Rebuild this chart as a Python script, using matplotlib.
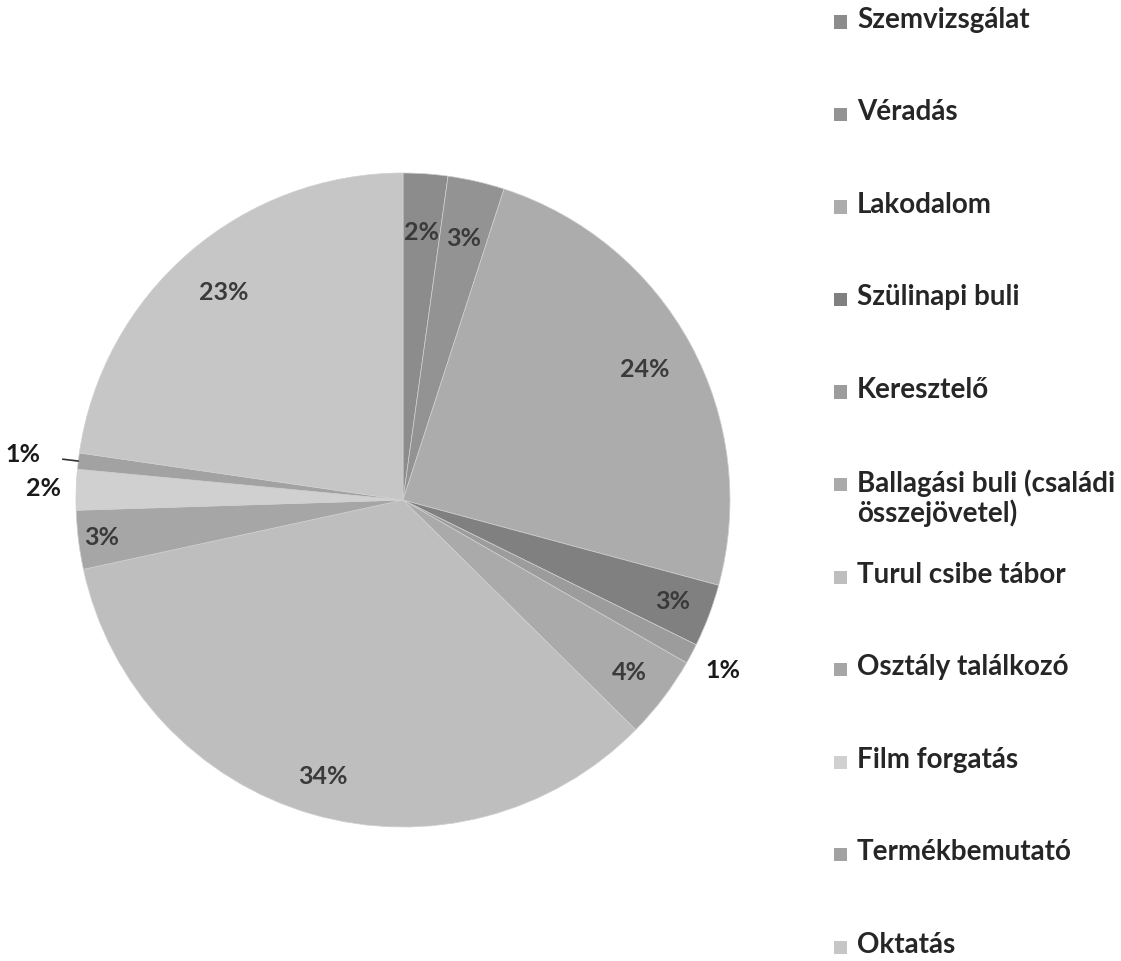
import numpy as np
import matplotlib
matplotlib.use('Agg')
import matplotlib.pyplot as plt
from matplotlib.patches import Rectangle

plt.rcParams['font.family'] = ['Lato', 'DejaVu Sans']

# slice names and shares (percent), clockwise from 12 o'clock
labels = ['Szemvizsgálat', 'Véradás', 'Lakodalom', 'Szülinapi buli', 'Keresztelő',
          'Ballagási buli (családi\nösszejövetel)', 'Turul csibe tábor',
          'Osztály találkozó', 'Film forgatás', 'Termékbemutató', 'Oktatás']
shares = [2.2, 2.8, 24.2, 3.1, 1.0, 4.1, 34.2, 2.9, 2.0, 0.8, 22.7]

colors = ['#8c8c8c', '#939393', '#acacac', '#808080', '#9c9c9c', '#aaaaaa',
          '#bebebe', '#a6a6a6', '#d0d0d0', '#a2a2a2', '#c6c6c6']
# distance of each percent label from the centre (in radii)
label_r = [0.82, 0.82, 0.84, 0.88, 1.11, 0.87, 0.88, 0.93, 1.10, 1.17, 0.84]

fig = plt.figure(figsize=(11.21, 9.61), dpi=100)
ax = fig.add_axes([0.0386, 0.1054, 0.6418, 0.7486])
ax.set_aspect('equal')

wedges, _ = ax.pie(shares, colors=colors, startangle=90, counterclock=False,
                   radius=1.0, wedgeprops=dict(edgecolor='#cfcfcf', linewidth=0.5))
ax.set_xlim(-1.1, 1.1)
ax.set_ylim(-1.1, 1.1)

total = sum(shares)
for w, v, r in zip(wedges, shares, label_r):
    mid = np.deg2rad((w.theta1 + w.theta2) / 2)
    x, y = r * np.cos(mid), r * np.sin(mid)
    txt = f'{round(v / total * 100)}%'
    inside = r < 1.0
    col = '#3a3a3a' if inside else '#1a1a1a'
    if r > 1.15:
        # small slice with a leader line
        ex, ey = np.cos(mid), np.sin(mid)
        ax.annotate(txt, xy=(ex, ey), xytext=(x, y), ha='center', va='center',
                    fontsize=18, color=col, fontweight='bold',
                    arrowprops=dict(arrowstyle='-', color='#333333', lw=1.2,
                                    shrinkA=14, shrinkB=0))
    else:
        ax.text(x, y, txt, ha='center', va='center', fontsize=18,
                color=col, fontweight='bold')

# legend on the right, one entry every 92.5 px
for i, (lab, c) in enumerate(zip(labels, colors)):
    ytop = 22 + 92.5 * i
    yf = 1 - ytop / 961
    fig.patches.append(Rectangle((834 / 1121, yf - 6.5 / 961), 13 / 1121, 13 / 961,
                                 transform=fig.transFigure, facecolor=c,
                                 edgecolor='none'))
    fig.text(857 / 1121, yf + 15 / 961, lab, ha='left', va='top', fontsize=20,
             fontweight='bold', color='#262626', linespacing=1.1)

fig.savefig('out.png', dpi=100, facecolor='white')
